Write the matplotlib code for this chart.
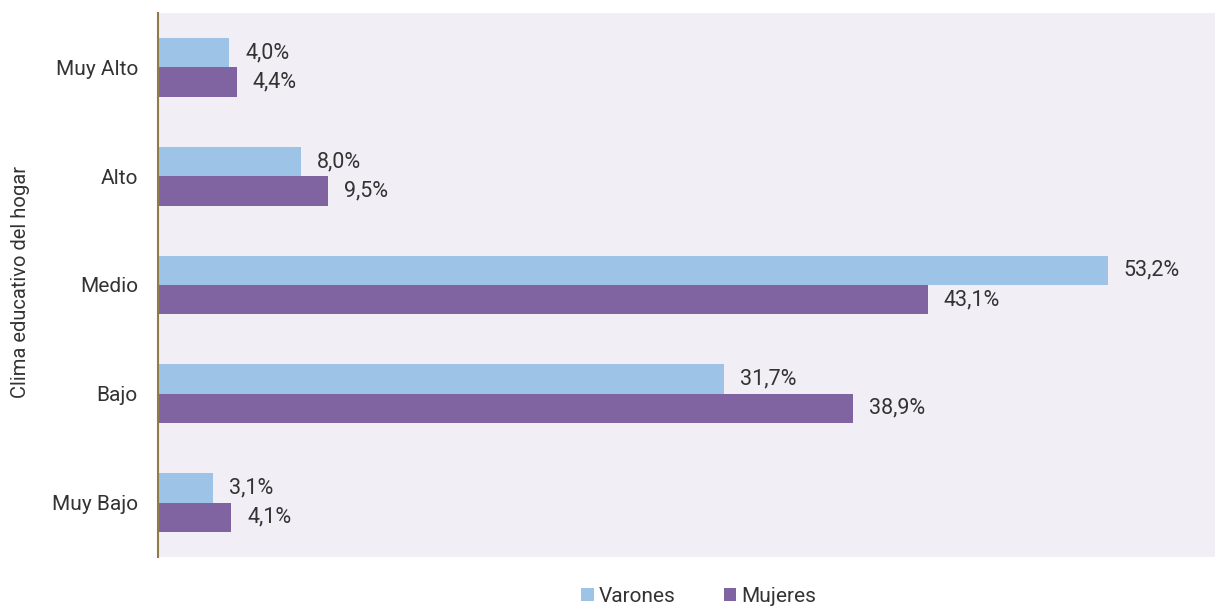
import numpy as np
import matplotlib.pyplot as plt

plt.rcParams['font.family'] = ['Roboto', 'DejaVu Sans']

# ---- data ----
categorias = ["Muy Alto", "Alto", "Medio", "Bajo", "Muy Bajo"]
varones = [4.0, 8.0, 53.2, 31.7, 3.1]
mujeres = [4.4, 9.5, 43.1, 38.9, 4.1]

col_var = "#9dc3e6"
col_muj = "#8064a2"

fig = plt.figure(figsize=(12.15, 6.06), dpi=100)
ax = fig.add_axes([0.130, 0.081, 0.870, 0.8975])
ax.set_facecolor("#f1eff5")

y = np.arange(len(categorias))
h = 0.27
ax.barh(y - h / 2, varones, height=h, color=col_var, label="Varones")
ax.barh(y + h / 2, mujeres, height=h, color=col_muj, label="Mujeres")

# value labels
for yi, v in zip(y, varones):
    ax.annotate(f"{v:.1f}%".replace(".", ","), (v, yi - h / 2), xytext=(16, 0),
                textcoords="offset pixels", va="center", ha="left", fontsize=15.5, color="#333333")
for yi, v in zip(y, mujeres):
    ax.annotate(f"{v:.1f}%".replace(".", ","), (v, yi + h / 2), xytext=(16, 0),
                textcoords="offset pixels", va="center", ha="left", fontsize=15.5, color="#333333")

ax.set_ylim(len(categorias) - 0.5, -0.5)
ax.set_xlim(0, 59.2)
ax.set_yticks(y)
ax.set_yticklabels(categorias, fontsize=15, color="#333333")
ax.set_xticks([])
ax.tick_params(axis="y", length=0, pad=14.4)

for s in ["top", "right", "bottom"]:
    ax.spines[s].set_visible(False)
ax.spines["left"].set_color("#8c7d4a")
ax.spines["left"].set_linewidth(1.5)

fig.text(0.0165, 0.535, "Clima educativo del hogar", rotation=90, va="center", ha="center",
         fontsize=14.5, color="#333333")

fig.legend(loc="center", bbox_to_anchor=(0.575, 0.0165), ncol=2, frameon=False,
           fontsize=15, handlelength=0.6, handleheight=0.6, handletextpad=0.25,
           columnspacing=2.3, labelcolor="#333333", borderpad=0)

fig.savefig("out.png", dpi=100)
